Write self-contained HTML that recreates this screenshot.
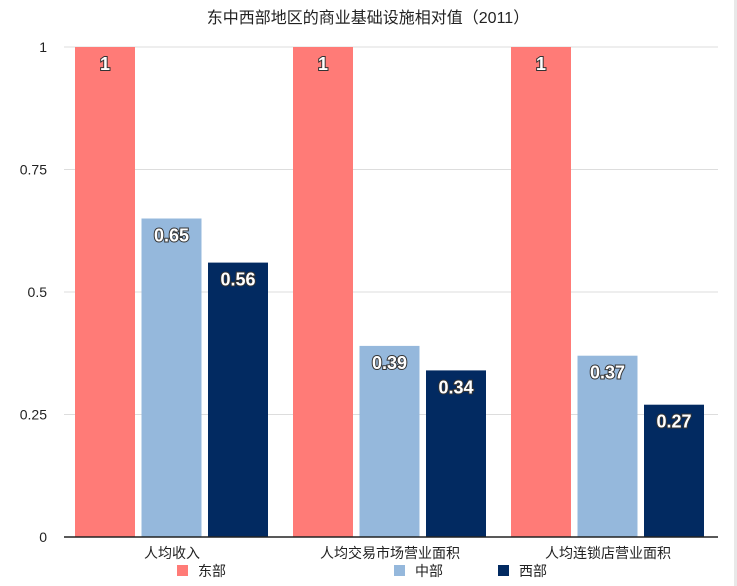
<!DOCTYPE html>
<html><head><meta charset="utf-8"><style>
body{margin:0;background:#fff;}
svg{display:block;font-family:"Liberation Sans","Noto Sans CJK SC",sans-serif;}
</style></head><body>
<svg id="c" width="737" height="586">
<rect x="734" y="0" width="3" height="586" fill="#e8e8e8"/>
<text x="368" y="23" text-anchor="middle" font-size="16" fill="#222">东中西部地区的商业基础设施相对值（2011）</text>
<g id="grid"></g><g id="bars"></g><g id="labels"></g>
<line x1="64" y1="537" x2="718" y2="537" stroke="#222" stroke-width="1.5"/>
<g id="legend"></g>
</svg>
<script>
const categories=["人均收入","人均交易市场营业面积","人均连锁店营业面积"];
const seriesNames=["东部","中部","西部"];
const east=[1,1,1];
const central=[0.65,0.39,0.37];
const west=[0.56,0.34,0.27];
const ticks=[0,0.25,0.5,0.75,1];
const tickLabels=["0","0.25","0.5","0.75","1"];
const colors=["#ff7b77","#95b8dc","#022a61"];
const NS="http://www.w3.org/2000/svg";
function y(v){return 537-v*490;}
function mk(tag,attrs,parent,text){const e=document.createElementNS(NS,tag);for(const k in attrs)e.setAttribute(k,attrs[k]);if(text!==undefined)e.textContent=text;document.getElementById(parent).appendChild(e);return e;}
ticks.forEach((t,i)=>{
  if(t>0){const l=mk('line',{x1:64,x2:718,y1:y(t),y2:y(t),stroke:'#ddd'},'grid');
  
  }
  const tx=mk('text',{x:47,y:y(t)+5,'text-anchor':'end','font-size':14,fill:'#222'},'grid',tickLabels[i]);
  
  
});
const series=[east,central,west];
function gx(i){return 75+i*218;}
categories.forEach((c,i)=>{
  series.forEach((s,j)=>{
    const x=gx(i)+j*66.5, v=s[i];
    const r=mk('rect',{x:x,y:y(v),width:60,height:537-y(v),fill:colors[j]},'bars');
    
    
    const t=mk('text',{x:x+30,y:y(v)+23,'text-anchor':'middle','font-size':18,fill:'#fff',stroke:'#333','stroke-width':2,'paint-order':'stroke','font-weight':'bold'},'labels',String(v));
    
    
  });
  const cl=mk('text',{x:gx(i)+97,y:558,'text-anchor':'middle','font-size':14,fill:'#222'},'labels',c);
  
  
});
const lx=[177,394,498];
seriesNames.forEach((n,j)=>{
  const r=mk('rect',{x:lx[j],y:565,width:11,height:11,fill:colors[j]},'legend');
  
  
  const t=mk('text',{x:lx[j]+21,y:576,'font-size':14,fill:'#222'},'legend',n);
  
  
});
</script>
</body></html>
